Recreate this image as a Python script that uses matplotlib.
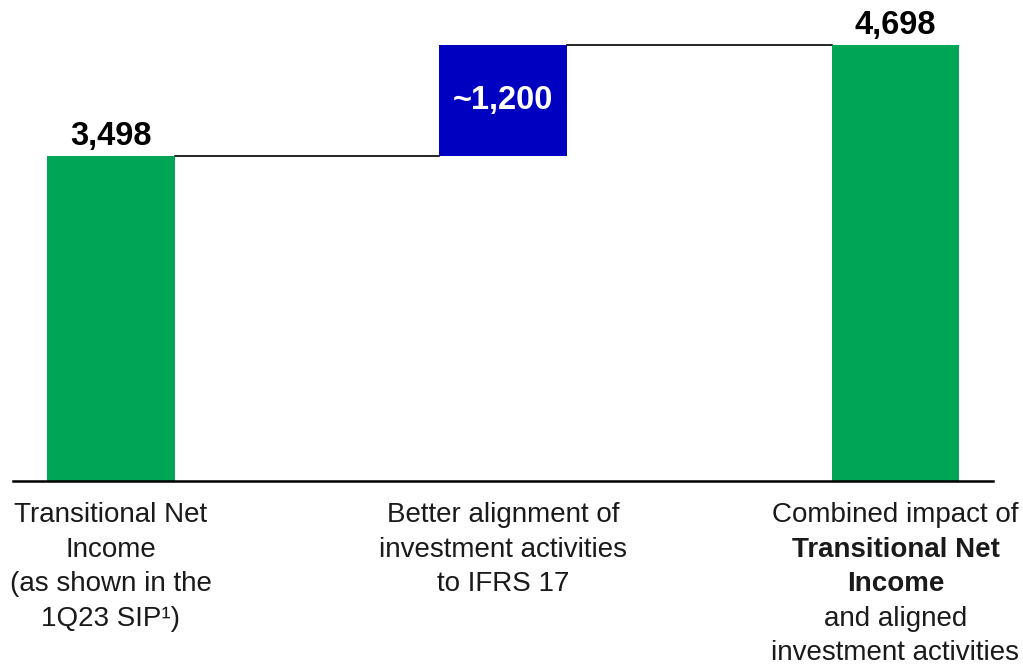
import matplotlib
import matplotlib.pyplot as plt
matplotlib.use('agg')

plt.rcParams['font.family'] = ['Liberation Sans', 'DejaVu Sans']

# waterfall data
start_value = 3498
alignment_delta = 1200
end_value = 4698
value_labels = ['3,498', '~1,200', '4,698']

category_lines = [
    [('Transitional Net', 'normal'), ('Income', 'normal'),
     ('(as shown in the', 'normal'), ('1Q23 SIP\u00b9)', 'normal')],
    [('Better alignment of', 'normal'), ('investment activities', 'normal'),
     ('to IFRS 17', 'normal')],
    [('Combined impact of', 'normal'), ('Transitional Net', 'bold'),
     ('Income', 'bold'), ('and aligned', 'normal'),
     ('investment activities', 'normal')],
]

GREEN = '#00A556'
BLUE = '#0000C0'

W, H = 1023, 667
fig = plt.figure(figsize=(W / 100, H / 100), dpi=100)
ax = fig.add_axes([13 / W, 1 - 481 / H, (993 - 13) / W, 481 / H])

x = [0, 1, 2]
width = 0.326
bottoms = [0, start_value, 0]
heights = [start_value, alignment_delta, end_value]
colors = [GREEN, BLUE, GREEN]
ax.bar(x, heights, width=width, bottom=bottoms, color=colors, zorder=2)

# connectors between bars
ax.plot([x[0] + width / 2, x[1] - width / 2], [start_value, start_value],
        color='black', lw=1.2, zorder=1)
ax.plot([x[1] + width / 2, x[2] - width / 2],
        [start_value + alignment_delta] * 2, color='black', lw=1.2, zorder=1)

ax.set_xlim(-0.2498, 2.2486)
ax.set_ylim(0, 481 / 0.0928)

# value labels
ax.annotate(value_labels[0], (x[0], start_value), xytext=(0, 11),
            textcoords='offset pixels', ha='center', va='baseline',
            fontsize=23.5, fontweight='bold')
ax.annotate(value_labels[2], (x[2], end_value), xytext=(0, 11),
            textcoords='offset pixels', ha='center', va='baseline',
            fontsize=23.5, fontweight='bold')
ax.text(x[1], start_value + alignment_delta / 2, value_labels[1],
        ha='center', va='center', fontsize=23.5, fontweight='bold',
        color='white')

# category labels, one line at a time
for xi, lines in zip(x, category_lines):
    for i, (line, weight) in enumerate(lines):
        ax.annotate(line, (xi, 0), xycoords=('data', 'axes fraction'),
                    xytext=(0, -(41 + 34.6 * i)), textcoords='offset pixels',
                    ha='center', va='baseline', fontsize=20,
                    fontweight=weight, color='#1a1a1a',
                    annotation_clip=False)

for side in ['left', 'right', 'top']:
    ax.spines[side].set_visible(False)
ax.spines['bottom'].set_linewidth(1.8)
ax.set_xticks([])
ax.set_yticks([])

fig.savefig('out.png', dpi=100)
